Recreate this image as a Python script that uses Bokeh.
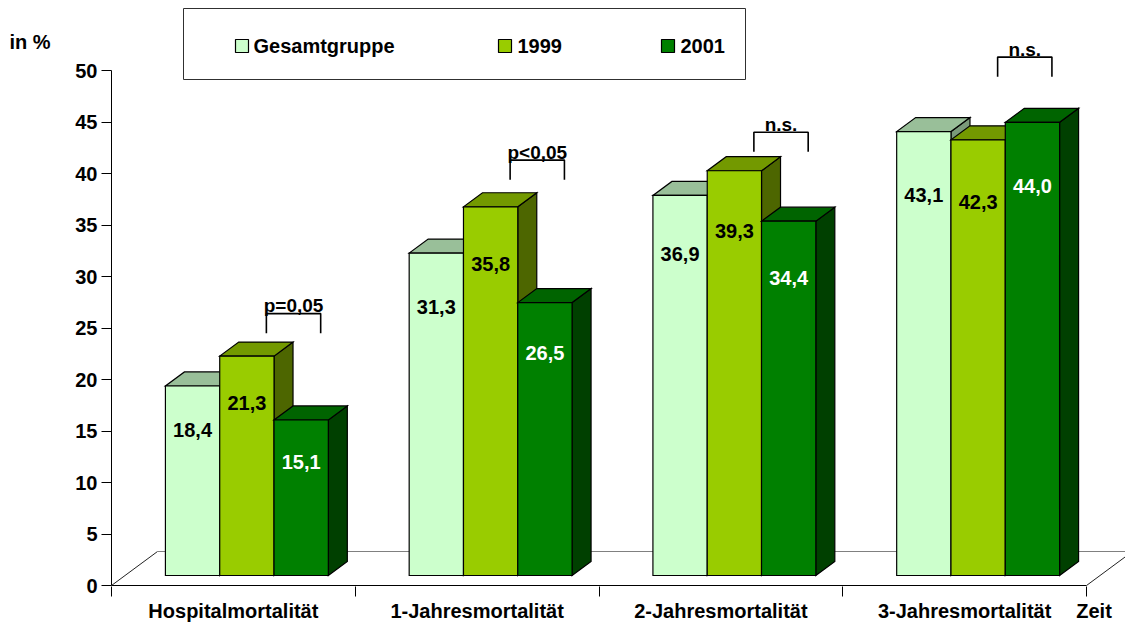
from bokeh.plotting import figure
from bokeh.models import Range1d, LinearAxis, FixedTicker, ColumnDataSource
from bokeh.core.properties import value
from bokeh.embed import file_html
from bokeh.resources import INLINE

# ---- data -------------------------------------------------------------
categories = ["Hospitalmortalität", "1-Jahresmortalität",
              "2-Jahresmortalität", "3-Jahresmortalität"]
series_names = ["Gesamtgruppe", "1999", "2001"]
gesamtgruppe = [18.4, 31.3, 36.9, 43.1]
jahr_1999 = [21.3, 35.8, 39.3, 42.3]
jahr_2001 = [15.1, 26.5, 34.4, 44.0]
significance = ["p=0,05", "p<0,05", "n.s.", "n.s."]
y_ticks = [0, 5, 10, 15, 20, 25, 30, 35, 40, 45, 50]
y_title = "in %"
x_title = "Zeit"

series_values = [gesamtgruppe, jahr_1999, jahr_2001]

# ---- styling ----------------------------------------------------------
front_colors = ["#CCFFCC", "#99CC00", "#008000"]
top_colors = ["#99BF99", "#739900", "#006400"]
side_colors = ["#7A997A", "#4D6600", "#004000"]
label_colors = ["black", "black", "white"]
FONT = "Liberation Sans"
TXT = dict(major_label_text_font=FONT, major_label_text_font_style="bold",
           major_label_text_font_size="20px", major_label_text_color="black")

# ---- geometry (pixel scale of the plot frame) -------------------------
W, H = 1125, 624
FRAME_LEFT = 111          # y axis line
ZERO_PX = 585             # floor front edge (value 0)
FRAME_BOTTOM = 586
CAT_PX = 243.75           # width of one category in px
UNIT_PX = 10.3            # px per percentage point

def px_x(px):
    return (px - FRAME_LEFT) / CAT_PX

def px_y(py):
    return (ZERO_PX - py) / UNIT_PX

# floor depth vector and bar placement in data units
depth_dx = 46 / CAT_PX
depth_dy = 34 / UNIT_PX
front_frac = 0.2935
bar_depth_frac = 0.413
bar_w = 54.3 / CAT_PX
f_dx, f_dy = front_frac * depth_dx, front_frac * depth_dy
b_dx, b_dy = bar_depth_frac * depth_dx, bar_depth_frac * depth_dy

# bracket levels for the significance markers (percent scale)
bracket_levels = [26.4, 41.3, 44.0, 51.3]
bracket_leg = 1.9
# axis title positions
y_title_pos = 52.8
x_title_pos = 4.031

x_end = (W - FRAME_LEFT) / CAT_PX
p = figure(width=W, height=H, output_backend="svg", toolbar_location=None,
           x_range=Range1d(0, x_end),
           y_range=Range1d(px_y(FRAME_BOTTOM), px_y(0)),
           x_axis_location=None, y_axis_location=None,
           min_border_left=FRAME_LEFT, min_border_bottom=H - FRAME_BOTTOM,
           min_border_top=0, min_border_right=0)
p.outline_line_color = None
p.background_fill_color = "white"
p.border_fill_color = "white"
for g in p.grid:
    g.visible = False

# ---- axes -------------------------------------------------------------
yaxis = LinearAxis(ticker=FixedTicker(ticks=y_ticks, minor_ticks=[]),
                   bounds=(0, 50), major_tick_out=10, major_tick_in=0,
                   minor_tick_out=0, minor_tick_in=0, major_label_standoff=4,
                   axis_line_color="black", major_tick_line_color="black", **TXT)
p.add_layout(yaxis, "left")

# outer left axis carries only the unit title
ytitle_axis = LinearAxis(ticker=FixedTicker(ticks=[y_title_pos], minor_ticks=[]),
                         major_label_overrides={y_title_pos: y_title},
                         axis_line_color=None, major_tick_line_color=None,
                         minor_tick_line_color=None, major_tick_out=0, major_tick_in=0,
                         minor_tick_out=0, minor_tick_in=0, major_label_standoff=22, **TXT)
p.add_layout(ytitle_axis, "left")

n = len(categories)
centers = [i + 0.5 for i in range(n)]
x_labels = {c: name for c, name in zip(centers, categories)}
x_labels[x_title_pos] = x_title
xaxis = LinearAxis(ticker=FixedTicker(ticks=centers + [x_title_pos],
                                      minor_ticks=list(range(n + 1))),
                   major_tick_out=0, major_tick_in=0,
                   minor_tick_out=10, minor_tick_in=0, major_label_standoff=3,
                   major_label_overrides=x_labels,
                   axis_line_color=None, major_tick_line_color=None,
                   minor_tick_line_color="black", **TXT)
p.add_layout(xaxis, "below")

# ---- floor ------------------------------------------------------------
p.segment(x0=[0], y0=[0], x1=[n], y1=[0], line_color="black", line_width=1)
p.segment(x0=[0, n], y0=[0, 0], x1=[depth_dx, n + depth_dx], y1=[depth_dy, depth_dy],
          line_color="#222222", line_width=1)
p.segment(x0=[depth_dx], y0=[depth_dy], x1=[x_end + 0.1], y1=[depth_dy],
          line_color="#808080", line_width=1)

# ---- 3D bars (painter's order: left to right, side, top, front) -------
xs, ys, cols = [], [], []
lab_x, lab_y, lab_t, lab_c = [], [], [], []
for i in range(n):
    group_center = i + 0.5 + f_dx
    for j, vals in enumerate(series_values):
        v = vals[i]
        l = group_center + (j - 1.5) * bar_w
        r = l + bar_w
        b = f_dy
        t = f_dy + v
        # side
        xs.append([r, r + b_dx, r + b_dx, r])
        ys.append([b, b + b_dy, t + b_dy, t])
        cols.append(side_colors[j])
        # top
        xs.append([l, r, r + b_dx, l + b_dx])
        ys.append([t, t, t + b_dy, t + b_dy])
        cols.append(top_colors[j])
        # front
        xs.append([l, r, r, l])
        ys.append([b, b, t, t])
        cols.append(front_colors[j])
        lab_x.append((l + r) / 2)
        lab_y.append(f_dy + v * 0.925 - 2.91)
        lab_t.append(f"{v:.1f}".replace(".", ","))
        lab_c.append(label_colors[j])

faces = ColumnDataSource(dict(xs=xs, ys=ys, color=cols))
p.patches("xs", "ys", source=faces, fill_color="color", line_color="black",
          line_width=1.2, line_join="miter")

labels = ColumnDataSource(dict(x=lab_x, y=lab_y, text=lab_t, color=lab_c))
p.text("x", "y", text="text", source=labels, text_color="color",
       text_font=value(FONT), text_font_style="bold", text_font_size="20px",
       text_align="center", text_baseline="middle")

# ---- significance brackets -------------------------------------------
br_xs, br_ys, br_tx, br_ty = [], [], [], []
shift = 19.5 / CAT_PX
for i in range(n):
    group_center = i + 0.5 + f_dx
    xl = group_center + shift
    xr = group_center + bar_w + shift
    lvl = bracket_levels[i]
    br_xs.append([xl, xl, xr, xr])
    br_ys.append([lvl - bracket_leg, lvl, lvl, lvl - bracket_leg])
    br_tx.append((xl + xr) / 2)
    br_ty.append(lvl + 8 / UNIT_PX)
p.multi_line(br_xs, br_ys, line_color="black", line_width=1.6)
p.text(br_tx, br_ty, text=significance, text_color="black",
       text_font=value(FONT), text_font_style="bold", text_font_size="19px",
       text_align="center", text_baseline="alphabetic")

# ---- legend box -------------------------------------------------------
p.quad(left=[px_x(183)], right=[px_x(745)], top=[px_y(8)], bottom=[px_y(79)],
       fill_color="white", line_color="#303030", line_width=1)
sq_left = [235, 498, 661]
txt_left = [253, 517, 680]
p.quad(left=[px_x(s) for s in sq_left], right=[px_x(s + 13) for s in sq_left],
       top=[px_y(39)] * 3, bottom=[px_y(52)] * 3,
       fill_color=front_colors, line_color="black", line_width=1.2)
p.text([px_x(t) for t in txt_left], [px_y(45.5)] * 3, text=series_names,
       text_color="black", text_font=value(FONT), text_font_style="bold",
       text_font_size="20px", text_align="left", text_baseline="middle")

open("out.html", "w").write(file_html(p, INLINE))
